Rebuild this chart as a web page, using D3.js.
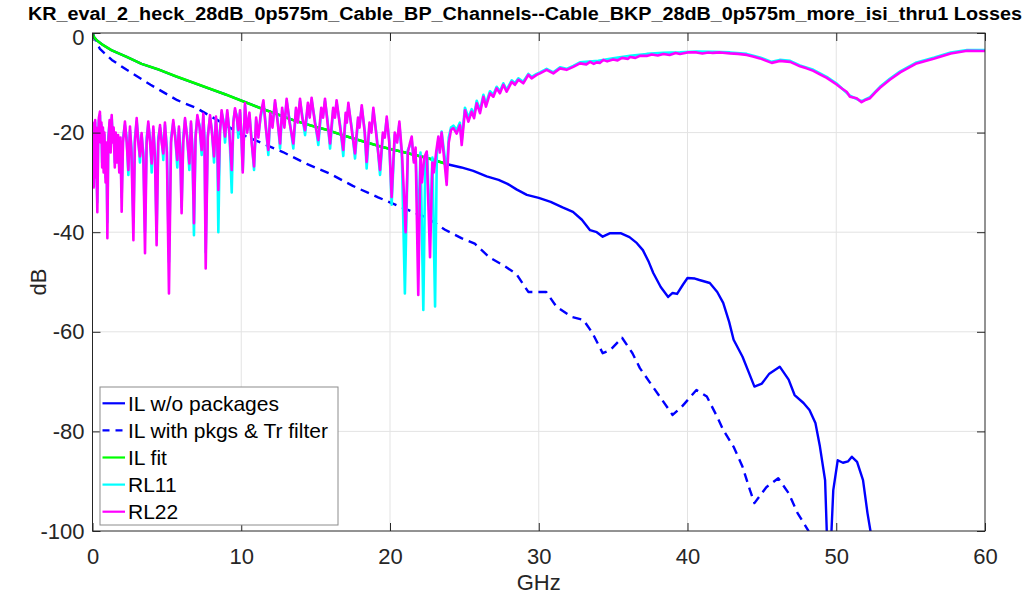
<!DOCTYPE html>
<html><head><meta charset="utf-8">
<script src="https://cdn.jsdelivr.net/npm/d3@7"></script>
<style>body{margin:0;background:#fff;} svg{display:block;font-family:"Liberation Sans",Arial,Helvetica,sans-serif;}</style>
</head><body>
<svg id="c" width="1025" height="597"></svg>
<script>
const titleText = "KR_eval_2_heck_28dB_0p575m_Cable_BP_Channels--Cable_BKP_28dB_0p575m_more_isi_thru1 Losses";
const xTicks = [0,10,20,30,40,50,60];
const yTicks = [0,-20,-40,-60,-80,-100];
const seriesNames = ["IL w/o packages","IL with pkgs & Tr filter","IL fit","RL11","RL22"];
const seriesColors = ["#0000ff","#0000ff","#00ff00","#00ffff","#ff00ff"];

const ilNoPkg = [[0,0],[0.1,-0.8],[0.3,-1.5],[0.7,-2.4],[1.3,-3.5],[2.3,-4.8],[3.3,-6.2],[4.5,-7.4],[5.6,-8.7],[6.8,-10],[7.9,-11.2],[9,-12.4],[10.1,-13.7],[11.3,-15.1],[12.4,-16.3],[13.5,-17.5],[14.6,-18.5],[15.8,-19.5],[16.9,-20.6],[18,-21.6],[19.5,-22.9],[21,-24],[22.5,-25.1],[23.8,-26.3],[24.07,-26.5],[24.8,-27],[25.6,-27.7],[26.5,-28.8],[27.3,-29.5],[27.9,-30.3],[28.5,-31.4],[29.2,-32.5],[30,-33.1],[30.8,-33.9],[31.6,-35],[32.3,-35.9],[32.9,-37.5],[33.45,-39.6],[33.9,-40],[34.3,-40.9],[34.8,-40.2],[35.5,-40.2],[36.1,-41],[36.6,-42.2],[37,-43.6],[37.4,-46],[37.7,-48.2],[38.2,-51],[38.7,-53],[39.0,-52.2],[39.3,-52.4],[39.7,-50.5],[40,-49.2],[40.5,-49.3],[40.8,-49.6],[41.5,-50.2],[42,-52],[42.4,-54.2],[42.8,-58],[43.1,-61.6],[43.7,-65],[44.1,-68],[44.5,-71],[45,-70.4],[45.5,-68.4],[46.2,-67],[46.8,-69.6],[47.2,-72.7],[47.8,-74.3],[48.2,-75.7],[48.6,-78.3],[48.9,-83],[49.25,-89.8],[49.45,-108],[49.65,-102],[49.8,-91.8],[50.1,-85.8],[50.45,-86.3],[50.8,-86],[51.05,-85.1],[51.4,-86.1],[51.8,-89.8],[52.1,-96.4],[52.3,-100],[52.6,-110]];

const ilPkg = [[0,0],[0.1,-0.8],[0.5,-3.2],[1.3,-5.4],[2.3,-7.4],[3.9,-10.4],[5.7,-13.5],[7,-15.1],[8.4,-17.5],[9.9,-20.2],[11.3,-22],[12.8,-23.9],[14.4,-26.3],[16,-28.3],[17.5,-30.7],[19.2,-33],[20.7,-34.9],[22.5,-37.1],[23.7,-39.5],[24.8,-41.2],[25.7,-42.3],[26.7,-45.1],[27.6,-46.6],[28.5,-48.4],[29.3,-52],[30.5,-52],[31.2,-55],[32.2,-57],[33,-57.6],[33.6,-60.2],[34.3,-64.3],[34.8,-63.7],[35.6,-61.2],[36.3,-64.3],[36.8,-67.3],[37.5,-70.3],[38.3,-73.7],[39,-76.7],[39.6,-75.1],[40.6,-71.7],[41.3,-73],[42,-77.1],[42.4,-79.7],[43.1,-83.1],[43.7,-87.1],[44.2,-91.8],[44.5,-94.4],[45.3,-91.2],[46.1,-89.4],[46.8,-92.4],[47.4,-96.4],[48.1,-99.8],[48.5,-103]];

const ilFit = [[0,0],[0.1,-0.8],[0.3,-1.5],[0.7,-2.4],[1.3,-3.5],[2.3,-4.8],[3.3,-6.2],[4.5,-7.4],[5.6,-8.7],[6.8,-10],[7.9,-11.2],[9,-12.4],[10.1,-13.7],[11.3,-15.1],[12.4,-16.3],[13.5,-17.5],[14.6,-18.5],[15.8,-19.5],[16.9,-20.6],[18,-21.6],[19.5,-22.9],[21,-24],[22.5,-25.1],[23.8,-26.3]];

const rl11 = [[0,-21],[0.03,-29],[0.06,-20],[0.09,-30],[0.12,-19],[0.15,-28],[0.18,-18],[0.21,-27],[0.24,-20],[0.27,-27],[0.325,-34],[0.38,-21],[0.43,-17.5],[0.5,-16.5],[0.55,-21],[0.6,-18.5],[0.65,-26],[0.7,-19.5],[0.75,-27],[0.8,-20.5],[0.88,-29],[0.94,-23],[1.0,-38],[1.06,-21],[1.15,-18],[1.22,-23],[1.29,-17],[1.36,-21],[1.42,-19.5],[1.5,-26],[1.56,-20.5],[1.65,-25],[1.72,-21],[1.8,-27],[1.88,-22],[1.96,-33],[2.05,-21],[2.18,-18.5],[2.3,-21],[2.41,-28.5],[2.52,-19.5],[2.62,-23],[2.75,-38],[2.85,-21],[2.97,-17.8],[3.08,-21],[3.19,-26],[3.3,-20.5],[3.42,-24],[3.53,-40],[3.64,-21],[3.75,-18.3],[3.87,-21],[3.98,-28],[4.09,-19.5],[4.2,-24],[4.31,-40],[4.42,-21],[4.54,-19],[4.65,-21],[4.76,-25.5],[4.87,-18.5],[5.0,-23],[5.14,-46],[5.28,-21],[5.43,-18],[5.56,-20.5],[5.7,-27],[5.81,-19.2],[5.9,-23],[5.99,-35],[6.1,-21],[6.22,-17.5],[6.36,-20.5],[6.51,-27.5],[6.62,-18.2],[6.72,-23],[6.82,-40.6],[6.93,-20.5],[7.05,-17],[7.2,-18.5],[7.34,-24.5],[7.45,-16.7],[7.53,-21],[7.61,-44],[7.75,-20.5],[7.9,-17],[8.03,-19.5],[8.17,-26],[8.3,-17.2],[8.38,-20.5],[8.46,-40],[8.57,-19.5],[8.68,-16],[8.8,-17.5],[8.91,-22],[9.06,-16],[9.2,-19.5],[9.36,-32],[9.47,-17.5],[9.58,-15.6],[9.7,-16.5],[9.8,-21],[9.92,-16],[10.0,-19.5],[10.1,-27.5],
[10.25,-14.6],[10.4,-19.5],[10.55,-16.5],[10.7,-21.5],[10.86,-27.5],[11.0,-17.5],[11.15,-20.5],[11.3,-17],[11.49,-14],[11.65,-18.5],[11.82,-24.5],[11.95,-16.5],[12.1,-18.5],[12.27,-14],[12.45,-17.5],[12.61,-23.2],[12.75,-15.5],[12.9,-18.5],[13.05,-13.7],[13.25,-17.5],[13.5,-23.2],[13.68,-15.5],[13.8,-17.5],[13.95,-13.7],[14.1,-16.5],[14.29,-20.5],[14.48,-14.5],[14.6,-16.5],[14.73,-13.5],[14.95,-17.5],[15.18,-22.5],[15.38,-15.5],[15.5,-16.5],[15.63,-13.7],[15.8,-17.5],[15.97,-23.2],[16.18,-15.5],[16.3,-16.5],[16.41,-14],[16.65,-18.5],[16.86,-24.7],[17.02,-16.5],[17.1,-17.5],[17.2,-14.5],[17.45,-19.5],[17.65,-25.2],[17.85,-17.5],[17.95,-18.5],[18.1,-15],[18.3,-19.5],[18.43,-27.2],[18.62,-18.5],[18.75,-19.5],[18.88,-15.5],[19.1,-20.5],[19.33,-28.5],[19.52,-20.5],[19.65,-20.5],[19.78,-17.3],[19.95,-21.5],[20.11,-34.5],[20.32,-20.5],[20.48,-21.5],[20.63,-18.3],[20.8,-25],[21.0,-52.3],[21.2,-23.5],[21.35,-22.5],[21.46,-21.5],[21.6,-25.5],[21.72,-24],[21.9,-40],[22.05,-24],[22.24,-55.6],[22.38,-25],[22.5,-24.5],[22.69,-40],[22.85,-25],[23.03,-54.9],[23.15,-24],[23.25,-21.5],[23.35,-23.5],[23.47,-19.8],[23.6,-23],[23.81,-28],[23.95,-21],[24.1,-19],
[24.26,-18.6],[24.48,-19.5],[24.7,-18],[24.82,-21.5],[25.04,-15],[25.27,-17],[25.49,-15.3],[25.65,-16.5],[25.83,-13.6],[26.05,-15.5],[26.28,-12.4],[26.45,-14.2],[26.72,-11.7],[26.95,-12.4],[27.17,-10.8],[27.39,-11.7],[27.62,-10.1],[27.84,-11.4],[28.18,-9.5],[28.4,-10.1],[28.63,-9.1],[28.96,-9.8],[29.3,-8.2],[29.52,-8.8],[29.86,-8.2],[30.08,-7.9],[30.53,-7.2],[30.98,-7.9],[31.43,-6.9],[31.87,-7.2],[32.32,-6.6],[32.77,-5.9],[34,-5.6],[35,-5.1],[36.14,-4.6],[37.26,-4.2],[38.38,-4.0],[39.5,-3.9],[40.6,-3.7],[41.7,-3.75],[42.86,-3.9],[43.98,-4.2],[44.87,-4.9],[45.66,-5.8],[46.2,-5.4],[46.9,-5.6],[47.56,-6.5],[48.46,-7.4],[49.36,-8.8],[50.0,-10.1],[50.92,-12.6],[51.7,-13.7],[52.27,-12.9],[52.94,-10.8],[53.6,-9.2],[54.3,-7.7],[55.4,-5.9],[56.6,-4.9],[57.7,-3.9],[58.8,-3.4],[60,-3.4]];

const rl22 = [[0,-22],[0.03,-30],[0.06,-19],[0.09,-31],[0.12,-18],[0.15,-29],[0.18,-17.5],[0.21,-28],[0.24,-19],[0.27,-26],[0.325,-36],[0.38,-22],[0.43,-17],[0.5,-15.8],[0.55,-22],[0.6,-18],[0.65,-27],[0.7,-19],[0.75,-28],[0.8,-20],[0.88,-30],[0.94,-22],[1.0,-41.2],[1.06,-22],[1.15,-17.5],[1.22,-24],[1.29,-16.5],[1.36,-22],[1.42,-19],[1.5,-27],[1.56,-20],[1.65,-26],[1.72,-20.5],[1.8,-28],[1.88,-21],[1.96,-35.9],[2.05,-22],[2.18,-17.8],[2.3,-22],[2.41,-27.5],[2.52,-18.8],[2.62,-24],[2.75,-41.6],[2.85,-22],[2.97,-17.1],[3.08,-22],[3.19,-24.8],[3.3,-20.1],[3.42,-25],[3.53,-44.2],[3.64,-22],[3.75,-17.8],[3.87,-22],[3.98,-26.2],[4.09,-18.8],[4.2,-25],[4.31,-42.6],[4.42,-22],[4.54,-18.5],[4.65,-22],[4.76,-24.2],[4.87,-18],[5.0,-24],[5.14,-52.3],[5.28,-22],[5.43,-17.5],[5.56,-21],[5.7,-25.5],[5.81,-18.8],[5.9,-24],[5.99,-36.2],[6.1,-22],[6.22,-17.1],[6.36,-21],[6.51,-26.2],[6.62,-17.8],[6.72,-24],[6.82,-38.2],[6.93,-21],[7.05,-16.5],[7.2,-19],[7.34,-23.5],[7.45,-16.2],[7.53,-22],[7.61,-47.3],[7.75,-21],[7.9,-16.5],[8.03,-20],[8.17,-24.8],[8.3,-16.8],[8.38,-21],[8.46,-31.5],[8.57,-20],[8.68,-15.5],[8.8,-18],[8.91,-20.8],[9.06,-15.5],[9.2,-20],[9.36,-27.5],[9.47,-18],[9.58,-15.1],[9.7,-17],[9.8,-19.5],[9.92,-15.5],[10.0,-20],[10.1,-28],
[10.25,-14.1],[10.4,-20],[10.55,-16],[10.7,-22],[10.86,-26.8],[11.0,-17],[11.15,-21],[11.3,-16.5],[11.49,-13.5],[11.65,-19],[11.82,-23.5],[11.95,-16],[12.1,-19],[12.27,-13.5],[12.45,-18],[12.61,-22.2],[12.75,-15],[12.9,-19],[13.05,-13.2],[13.25,-18],[13.5,-22.2],[13.68,-15],[13.8,-18],[13.95,-13.2],[14.1,-17],[14.29,-19.5],[14.48,-14],[14.6,-17],[14.73,-13],[14.95,-18],[15.18,-21.5],[15.38,-15],[15.5,-17],[15.63,-13.2],[15.8,-18],[15.97,-22.2],[16.18,-15],[16.3,-17],[16.41,-13.5],[16.65,-19],[16.86,-23.5],[17.02,-16],[17.1,-18],[17.2,-14],[17.45,-20],[17.65,-24.2],[17.85,-17],[17.95,-19],[18.1,-14.5],[18.3,-20],[18.43,-25.9],[18.62,-18],[18.75,-20],[18.88,-15],[19.1,-21],[19.33,-27.5],[19.52,-20],[19.65,-21],[19.78,-16.8],[19.95,-22],[20.11,-32.9],[20.32,-20],[20.48,-22],[20.63,-17.8],[20.8,-24],[20.9,-30],[21.05,-40],[21.2,-24],[21.35,-22],[21.46,-20.8],[21.6,-26],[21.72,-23],[21.9,-52.6],[22.05,-24.8],[22.15,-30],[22.3,-25],[22.47,-23.8],[22.69,-45],[22.85,-26],[22.95,-28],[23.1,-24],[23.25,-20.8],[23.35,-24],[23.47,-20],[23.6,-24],[23.81,-30.5],[23.95,-22],[24.1,-19.5],
[24.26,-19.1],[24.48,-20.2],[24.7,-18.5],[24.82,-22.5],[25.04,-15.5],[25.27,-17.8],[25.49,-15.8],[25.65,-17.1],[25.83,-14.1],[26.05,-16.1],[26.28,-12.8],[26.45,-14.8],[26.72,-12.1],[26.95,-12.8],[27.17,-11.1],[27.39,-12.1],[27.62,-10.4],[27.84,-11.8],[28.18,-9.8],[28.4,-10.4],[28.63,-9.4],[28.96,-10.1],[29.3,-8.4],[29.52,-9.1],[29.86,-8.4],[30.08,-8.1],[30.53,-7.4],[30.98,-8.1],[31.43,-7.1],[31.87,-7.4],[32.32,-6.8],[32.77,-6.1],[33.2,-6.3],[33.45,-5.8],[33.7,-6.2],[33.9,-5.9],[34.1,-6.0],[34.34,-5.4],[34.6,-5.7],[35,-5.3],[35.3,-5.5],[35.6,-5.0],[36,-5.2],[36.14,-4.8],[36.5,-5.0],[36.8,-4.6],[37.26,-4.6],[37.6,-4.3],[38,-4.5],[38.38,-4.2],[38.8,-4.4],[39.2,-4.0],[39.5,-4.2],[40,-3.9],[40.6,-3.9],[41,-4.1],[41.4,-3.9],[41.7,-4.0],[42.2,-3.9],[42.86,-4.1],[43.4,-4.2],[43.98,-4.4],[44.4,-4.7],[44.87,-5.1],[45.3,-5.6],[45.66,-6.0],[46.2,-5.6],[46.9,-5.8],[47.2,-6.2],[47.56,-6.7],[48,-7.1],[48.46,-7.6],[48.9,-8.3],[49.36,-9.0],[50,-10.3],[50.4,-11.2],[50.7,-11.8],[50.92,-12.8],[51.37,-13.1],[51.7,-13.9],[52,-13.4],[52.27,-13.1],[52.6,-12.0],[52.94,-11.0],[53.6,-9.4],[54.3,-7.9],[55.4,-6.1],[56.6,-5.1],[57.7,-4.1],[58.8,-3.55],[60,-3.6]];

const svg = d3.select("#c");
const L = 92.5, R = 985, T = 33, B = 531;
const x = d3.scaleLinear().domain([0,60]).range([L,R]);
const y = d3.scaleLinear().domain([-100,0]).range([B,T]);
const axisCol = "#262626";

// grid
const grid = svg.append("g");
grid.selectAll("line.gx").data(xTicks.slice(1,-1)).join("line")
  .attr("x1",d=>x(d)).attr("x2",d=>x(d)).attr("y1",T).attr("y2",B)
  .attr("stroke","#e3e3e3").attr("stroke-width",1);
grid.selectAll("line.gy").data(yTicks.slice(1,-1)).join("line")
  .attr("x1",L).attr("x2",R).attr("y1",d=>y(d)).attr("y2",d=>y(d))
  .attr("stroke","#e3e3e3").attr("stroke-width",1);

svg.append("clipPath").attr("id","clip").append("rect")
  .attr("x",L).attr("y",T).attr("width",R-L).attr("height",B-T);

const line = d3.line().x(d=>x(d[0])).y(d=>y(d[1]));
const plot = svg.append("g").attr("clip-path","url(#clip)");
const series = [ilNoPkg, ilPkg, ilFit, rl11, rl22];
const widths = [2.4,2.4,2.6,2.6,2.6];
const dashes = [null,"9,6",null,null,null];
series.forEach((s,i)=>{
  plot.append("path").datum(s).attr("d",line).attr("fill","none")
    .attr("stroke",seriesColors[i]).attr("stroke-width",widths[i])
    .attr("stroke-dasharray",dashes[i]).attr("stroke-linejoin","round");
});

// axes
function styleAxis(g){
  g.select(".domain").remove();
  g.selectAll(".tick line").attr("stroke",axisCol);
  g.selectAll(".tick text").attr("fill",axisCol).style("font-size","22px")
   .style("font-family","'Liberation Sans',Arial,sans-serif");
}
svg.append("g").attr("transform",`translate(0,${B})`)
  .call(d3.axisBottom(x).tickValues(xTicks).tickSize(-8).tickPadding(17).tickFormat(d3.format("d")))
  .call(styleAxis);
svg.append("g").attr("transform",`translate(0,${T})`)
  .call(d3.axisTop(x).tickValues(xTicks).tickSize(-8).tickFormat(""))
  .call(styleAxis);
const yAx = svg.append("g").attr("transform",`translate(${L},0)`)
  .call(d3.axisLeft(y).tickValues(yTicks).tickSize(-8).tickPadding(8).tickFormat(d=>d===0?"0":String(d).replace("−","-")))
  .call(styleAxis);
yAx.selectAll(".tick").filter(d=>d===0).select("text").attr("y",4);
svg.append("g").attr("transform",`translate(${R},0)`)
  .call(d3.axisRight(y).tickValues(yTicks).tickSize(-8).tickFormat(""))
  .call(styleAxis);
svg.append("rect").attr("x",L).attr("y",T).attr("width",R-L).attr("height",B-T)
  .attr("fill","none").attr("stroke",axisCol).attr("stroke-width",1);

// labels
svg.append("text").attr("x",28).attr("y",19.8).attr("textLength",994).attr("lengthAdjust","spacingAndGlyphs")
  .style("font-weight","bold").style("font-size","17.5px").attr("fill","#000").text(titleText);
svg.append("text").attr("x",(L+R)/2).attr("y",590).attr("text-anchor","middle")
  .style("font-size","22px").attr("fill",axisCol).text("GHz");
svg.append("text").attr("transform","translate(46,282) rotate(-90)").attr("text-anchor","middle")
  .style("font-size","22px").attr("fill",axisCol).text("dB");

// legend
const lg = svg.append("g");
lg.append("rect").attr("x",100).attr("y",387).attr("width",238).attr("height",138)
  .attr("fill","#fff").attr("stroke","#8c8c8c").attr("stroke-width",1);
seriesNames.forEach((n,i)=>{
  const yy = 403.3 + i*27.1;
  lg.append("line").attr("x1",102.5).attr("x2",125).attr("y1",yy).attr("y2",yy)
    .attr("stroke",seriesColors[i]).attr("stroke-width",2.2).attr("stroke-dasharray",i===1?"7,6":null);
  lg.append("text").attr("x",128).attr("y",yy+7.5).style("font-size","21px").attr("fill","#000").text(n);
});
</script>
</body></html>
